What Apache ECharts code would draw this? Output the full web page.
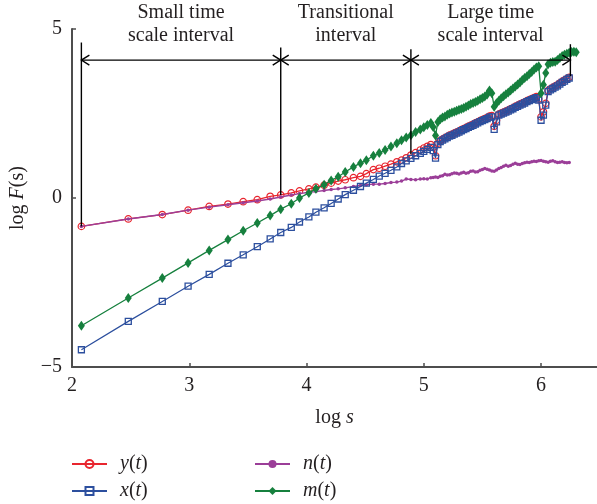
<!DOCTYPE html>
<html>
<head>
<meta charset="utf-8">
<script src="https://cdn.jsdelivr.net/npm/echarts@6/dist/echarts.min.js"></script>
<style>
  html, body { margin: 0; padding: 0; background: #fff; }
  #chart { width: 597px; height: 504px; }
</style>
</head>
<body>
<div id="chart"></div>
<script>
// log s sampling positions shared by all series
const logS = [
  2.08, 2.48, 2.77, 2.99, 3.17, 3.33, 3.46, 3.58, 3.69, 3.78, 3.87, 3.94,
  4.02, 4.08, 4.15, 4.21, 4.27, 4.33, 4.40, 4.46, 4.51, 4.57,
  4.62, 4.67, 4.72, 4.77, 4.81, 4.85, 4.89, 4.93, 4.97, 5.00, 5.03, 5.06, 5.08, 5.10, 5.12,
  5.14, 5.16, 5.18, 5.20, 5.22, 5.24, 5.26, 5.28, 5.30, 5.32, 5.34, 5.36, 5.38, 5.40,
  5.42, 5.44, 5.46, 5.48, 5.50, 5.52, 5.54, 5.56, 5.58, 5.60, 5.62, 5.64, 5.66, 5.68,
  5.70, 5.72, 5.74, 5.76, 5.78, 5.80, 5.82, 5.84, 5.86, 5.88, 5.90, 5.92, 5.94, 5.96,
  5.98, 6.00, 6.02, 6.04, 6.06, 6.08, 6.10, 6.12, 6.14, 6.16, 6.18, 6.20, 6.22, 6.24,
  6.26, 6.28, 6.30
];

// log F(s) for y(t)
const ySeries = [
  -0.84, -0.62, -0.49, -0.36, -0.25, -0.18, -0.11, -0.05, 0.05, 0.09, 0.15, 0.21,
  0.27, 0.32, 0.38, 0.44, 0.50, 0.54, 0.60, 0.64, 0.72, 0.84,
  0.88, 0.94, 1.00, 1.07, 1.12, 1.19, 1.27, 1.34, 1.42, 1.48, 1.53, 1.58, 1.50, 1.25, 1.62,
  1.70, 1.74, 1.78, 1.82, 1.86, 1.88, 1.92, 1.95, 1.98, 2.02, 2.05, 2.08, 2.12, 2.15,
  2.18, 2.22, 2.25, 2.29, 2.32, 2.35, 2.38, 2.42, 2.44, 2.12, 2.30, 2.48, 2.51, 2.54,
  2.57, 2.60, 2.64, 2.67, 2.71, 2.74, 2.78, 2.81, 2.84, 2.88, 2.91, 2.94, 2.97, 3.00,
  2.93, 2.40, 2.55, 2.80, 3.18, 3.23, 3.27, 3.31, 3.35, 3.40, 3.45, 3.49, 3.53, 3.57
];

// log F(s) for x(t)
const xSeries = [
  -4.49, -3.65, -3.06, -2.61, -2.26, -1.93, -1.68, -1.44, -1.21, -1.02, -0.87, -0.71,
  -0.56, -0.42, -0.29, -0.16, -0.03, 0.10, 0.23, 0.34, 0.44, 0.55,
  0.65, 0.73, 0.82, 0.92, 1.02, 1.10, 1.17, 1.25, 1.32, 1.38, 1.44, 1.50, 1.40, 1.18, 1.58,
  1.67, 1.71, 1.75, 1.79, 1.83, 1.85, 1.89, 1.92, 1.95, 1.99, 2.02, 2.05, 2.09, 2.12,
  2.15, 2.19, 2.22, 2.26, 2.29, 2.32, 2.35, 2.39, 2.40, 2.03, 2.25, 2.45, 2.48, 2.51,
  2.54, 2.57, 2.61, 2.64, 2.68, 2.71, 2.75, 2.78, 2.81, 2.85, 2.88, 2.91, 2.94, 2.97,
  2.90, 2.30, 2.45, 2.75, 3.15, 3.20, 3.24, 3.28, 3.32, 3.37, 3.42, 3.46, 3.51, 3.55
];

// log F(s) for n(t)
const nSeries = [
  -0.84, -0.62, -0.49, -0.36, -0.27, -0.20, -0.14, -0.09, -0.03, 0.03, 0.09, 0.13,
  0.17, 0.19, 0.22, 0.25, 0.27, 0.30, 0.34, 0.37, 0.39, 0.41,
  0.41, 0.43, 0.46, 0.47, 0.50, 0.56, 0.55, 0.54, 0.56, 0.57, 0.56, 0.60, 0.61, 0.62, 0.61,
  0.64, 0.66, 0.70, 0.68, 0.69, 0.72, 0.74, 0.73, 0.71, 0.74, 0.76, 0.73, 0.75, 0.79,
  0.80, 0.77, 0.78, 0.82, 0.84, 0.87, 0.85, 0.83, 0.80, 0.79, 0.83, 0.87, 0.90, 0.94,
  0.97, 0.94, 0.96, 1.00, 1.03, 1.00, 0.99, 1.02, 1.04, 1.06, 1.05, 1.07, 1.09, 1.08,
  1.10, 1.11, 1.09, 1.07, 1.06, 1.09, 1.10, 1.07, 1.05, 1.06, 1.07, 1.05, 1.04, 1.05
];

// log F(s) for m(t)
const mSeries = [
  -3.78, -2.96, -2.37, -1.92, -1.55, -1.23, -0.97, -0.74, -0.52, -0.33, -0.17, 0.00,
  0.15, 0.27, 0.39, 0.52, 0.63, 0.77, 0.92, 1.03, 1.12, 1.25,
  1.33, 1.42, 1.52, 1.62, 1.71, 1.79, 1.86, 1.95, 2.03, 2.09, 2.16, 2.22, 2.10, 1.85, 2.25,
  2.33, 2.38, 2.41, 2.46, 2.50, 2.53, 2.55, 2.58, 2.61, 2.63, 2.66, 2.70, 2.74, 2.78,
  2.81, 2.84, 2.88, 2.92, 2.96, 3.00, 3.06, 3.18, 3.10, 2.70, 2.80, 2.88, 2.95, 3.01,
  3.07, 3.12, 3.18, 3.24, 3.30, 3.36, 3.42, 3.49, 3.55, 3.60, 3.67, 3.73, 3.80, 3.86,
  3.90, 3.10, 3.35, 3.70, 3.96, 4.00, 4.02, 4.03, 4.08, 4.14, 4.20, 4.24, 4.27, 4.30,
  4.32, 4.33, 4.31
];

const xTicks = [2, 3, 4, 5, 6];
const yTicks = [-5, 0, 5];

// interval brackets: boundaries in log s, lower end of each divider, top of each divider
const dividerX = [2.08, 3.78, 4.89, 6.25];
const dividerLow = [-0.84, 0.09, 1.30, 3.60];
const dividerHigh = [4.60, 4.45, 4.40, 4.55];
const arrowLevel = 4.08;
const intervalTitles = [
  ['Small time', 'scale interval'],
  ['Transitional', 'interval'],
  ['Large time', 'scale interval']
];

const SERIF = '"Liberation Serif", "DejaVu Serif", serif';
const INK = '#231f20';
const AXIS = '#4d4d4d';

function pairs(vals) {
  return vals.map((v, i) => [logS[i], v]);
}

const italicRich = {
  i: { fontFamily: SERIF, fontStyle: 'italic', fontSize: 20, color: INK },
  n: { fontFamily: SERIF, fontSize: 20, color: INK }
};

function legendName(name) {
  return '{i|' + name.charAt(0) + '}{n|(}{i|t}{n|)}';
}

function legendAt(name, left, top) {
  return {
    data: [name],
    left: left, top: top, padding: 0,
    itemWidth: 35, itemHeight: 10,
    formatter: legendName,
    textStyle: { rich: italicRich, padding: [0, 0, 0, 8] }
  };
}

const chart = echarts.init(document.getElementById('chart'), null, { renderer: 'canvas' });

const option = {
  animation: false,
  backgroundColor: '#ffffff',
  grid: { left: 71, right: 0, top: 29, bottom: 137, containLabel: false },
  xAxis: {
    type: 'value',
    min: 2,
    max: 6.477,
    name: '{n|log }{i|s}',
    nameLocation: 'middle',
    nameGap: 41,
    nameTextStyle: { rich: italicRich },
    axisLine: { onZero: false, lineStyle: { color: AXIS, width: 2 } },
    axisTick: { inside: true, length: 4, customValues: xTicks, lineStyle: { color: AXIS, width: 1.5 } },
    axisLabel: {
      customValues: xTicks,
      margin: 9,
      fontFamily: SERIF, fontSize: 20, color: INK
    },
    splitLine: { show: false }
  },
  yAxis: {
    type: 'value',
    min: -5,
    max: 5,
    interval: 5,
    name: '{n|log }{i|F}{n|(s)}',
    nameLocation: 'middle',
    nameGap: 44,
    nameRotate: 90,
    nameTextStyle: { rich: italicRich },
    axisLine: { show: true, onZero: false, lineStyle: { color: AXIS, width: 2 } },
    axisTick: { show: true, inside: true, length: 4, customValues: yTicks, lineStyle: { color: AXIS, width: 1.5 } },
    axisLabel: {
      customValues: yTicks,
      margin: 10,
      fontFamily: SERIF, fontSize: 20, color: INK,
      formatter: v => String(v).replace('-', '\u2212')
    },
    splitLine: { show: false }
  },
  legend: [
    legendAt('y(t)', 71, 454),
    legendAt('x(t)', 71, 481),
    legendAt('n(t)', 254, 454),
    legendAt('m(t)', 254, 481)
  ],
  series: [
    {
      name: 'y(t)', type: 'line', data: pairs(ySeries),
      symbol: 'circle', symbolSize: 6.5,
      itemStyle: { color: 'rgba(255,255,255,0)', borderColor: '#e8252e', borderWidth: 1.2 },
      lineStyle: { color: '#e8252e', width: 1.3 },
      z: 2
    },
    {
      name: 'n(t)', type: 'line', data: pairs(nSeries),
      symbol: 'circle', symbolSize: 3.5,
      itemStyle: { color: '#9b3e98' },
      lineStyle: { color: '#9b3e98', width: 1.4 },
      z: 3
    },
    {
      name: 'x(t)', type: 'line', data: pairs(xSeries),
      symbol: 'rect', symbolSize: 6,
      itemStyle: { color: 'rgba(255,255,255,0)', borderColor: '#2c4f9e', borderWidth: 1.3 },
      lineStyle: { color: '#2c4f9e', width: 1.2 },
      z: 4
    },
    {
      name: 'm(t)', type: 'line', data: pairs(mSeries),
      symbol: 'diamond', symbolSize: [7, 10],
      itemStyle: { color: '#16803e' },
      lineStyle: { color: '#16803e', width: 1.3 },
      z: 5
    }
  ]
};

chart.setOption(option);

// Brackets marking the three scaling regimes
function px(x, y) { return chart.convertToPixel({ gridIndex: 0 }, [x, y]); }

const graphics = [];
const lineStyle = { stroke: '#000', lineWidth: 1.4 };

dividerX.forEach((x, i) => {
  const a = px(x, dividerLow[i]);
  const b = px(x, dividerHigh[i]);
  graphics.push({ type: 'line', shape: { x1: a[0], y1: a[1], x2: b[0], y2: b[1] }, style: lineStyle, z: 10 });
});

for (let i = 0; i < dividerX.length - 1; i++) {
  const a = px(dividerX[i], arrowLevel);
  const b = px(dividerX[i + 1], arrowLevel);
  graphics.push({ type: 'line', shape: { x1: a[0], y1: a[1], x2: b[0], y2: b[1] }, style: lineStyle, z: 10 });
  const head = 8, spread = 5;
  graphics.push({ type: 'polyline', shape: { points: [[a[0] + head, a[1] - spread], [a[0], a[1]], [a[0] + head, a[1] + spread]] }, style: { stroke: '#000', lineWidth: 1.4, fill: null }, z: 10 });
  graphics.push({ type: 'polyline', shape: { points: [[b[0] - head, b[1] - spread], [b[0], b[1]], [b[0] - head, b[1] + spread]] }, style: { stroke: '#000', lineWidth: 1.4, fill: null }, z: 10 });
  const cx = (a[0] + b[0]) / 2;
  intervalTitles[i].forEach((t, k) => {
    graphics.push({
      type: 'text', x: cx, y: 13 + k * 23, z: 10,
      style: { text: t, textAlign: 'center', textVerticalAlign: 'middle', font: '20px ' + SERIF, fill: INK }
    });
  });
}

chart.setOption({ graphic: graphics });
</script>
</body>
</html>
